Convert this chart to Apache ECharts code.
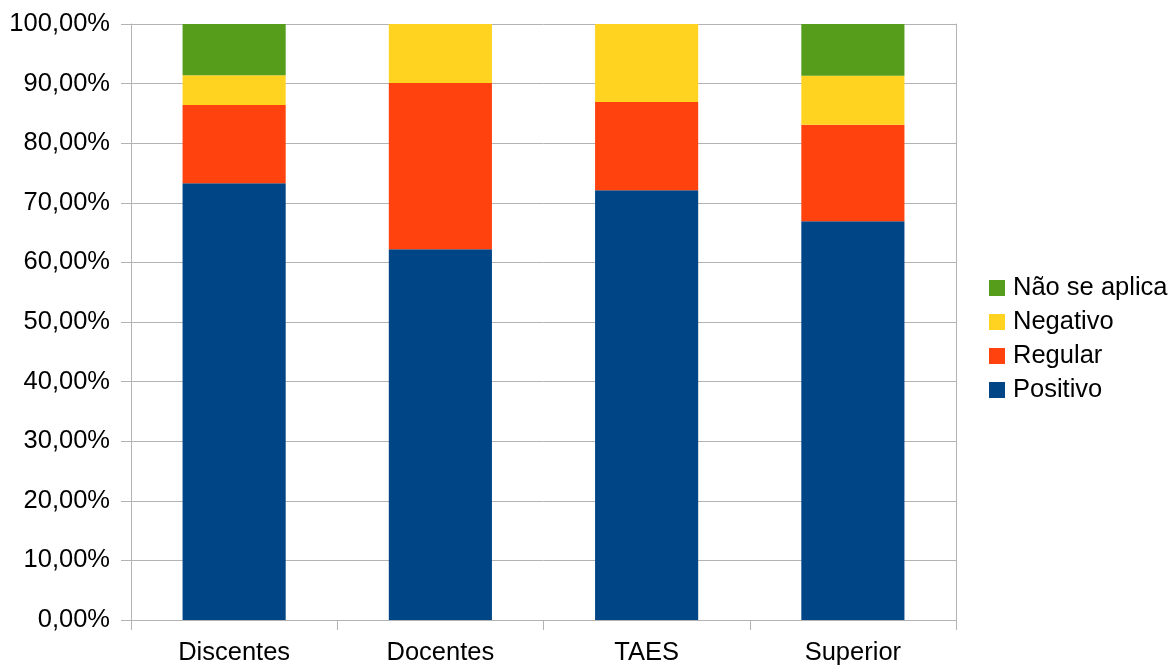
<!DOCTYPE html>
<html>
<head>
<meta charset="utf-8">
<script src="https://cdn.jsdelivr.net/npm/echarts@6/dist/echarts.min.js"></script>
<style>html,body{margin:0;padding:0;background:#fff}#c{width:1173px;height:666px}</style>
</head>
<body>
<div id="c"></div>
<script>
const categories = ['Discentes', 'Docentes', 'TAES', 'Superior'];
const positivo = [73.3, 62.2, 72.1, 66.9];
const regular = [13.1, 27.9, 14.8, 16.2];
const negativo = [5.0, 9.9, 13.1, 8.2];
const naoSeAplica = [8.6, 0, 0, 8.7];
const legendOrder = ['Não se aplica', 'Negativo', 'Regular', 'Positivo'];

const gray = '#b3b3b3';
const font = 'Liberation Sans, Arial, sans-serif';
const chart = echarts.init(document.getElementById('c'), null, {renderer: 'canvas'});
function mk(name, data, color) {
  return {name, type: 'bar', stack: 'total', data, barWidth: '50%',
    itemStyle: {color}, emphasis: {disabled: true}};
}
chart.setOption({
  animation: false,
  grid: {left: 131, right: 217, top: 24, bottom: 46, containLabel: false},
  legend: {
    orient: 'vertical', left: 989, top: 275, padding: 0,
    data: legendOrder, itemWidth: 16, itemHeight: 16, itemGap: 8,
    icon: 'rect', selectedMode: false,
    textStyle: {fontFamily: font, fontSize: 25.5, color: '#000', lineHeight: 24, padding: [0, 0, 0, 3]}
  },
  xAxis: {
    type: 'category', data: categories,
    axisLine: {show: true, lineStyle: {color: gray}},
    axisTick: {show: true, length: 10, lineStyle: {color: gray}},
    axisLabel: {fontFamily: font, fontSize: 25.5, color: '#000', margin: 20}
  },
  yAxis: [{
    type: 'value', min: 0, max: 100, interval: 10,
    axisLine: {show: true, lineStyle: {color: gray}},
    axisTick: {show: true, length: 10, lineStyle: {color: gray}},
    splitLine: {show: true, lineStyle: {color: gray}},
    axisLabel: {fontFamily: font, fontSize: 25.5, color: '#000', margin: 21,
      formatter: v => v.toFixed(2).replace('.', ',') + '%'}
  }, {
    type: 'value', min: 0, max: 100, interval: 10, position: 'right',
    axisLine: {show: true, lineStyle: {color: gray}},
    axisTick: {show: false}, axisLabel: {show: false}, splitLine: {show: false}
  }],
  series: [
    mk('Positivo', positivo, '#004586'),
    mk('Regular', regular, '#ff420e'),
    mk('Negativo', negativo, '#ffd320'),
    mk('Não se aplica', naoSeAplica, '#579d1c')
  ]
});
</script>
</body>
</html>
